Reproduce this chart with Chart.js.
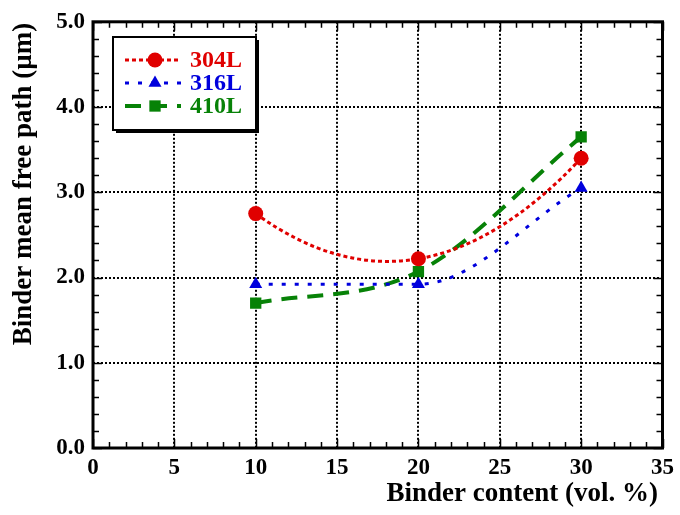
<!DOCTYPE html>
<html>
<head>
<meta charset="utf-8">
<script src="https://cdn.jsdelivr.net/npm/chart.js@4.4.1/dist/chart.umd.min.js"></script>
<style>
  html, body { margin: 0; padding: 0; background: #fff; }
  #wrap { width: 680px; height: 515px; position: relative; }
</style>
</head>
<body>
<div id="wrap"><canvas id="chart"></canvas></div>
<script>
// Binder content (vol. %) and binder mean free path (um) for each steel
const binderContent = [10, 20, 30];
const mfp304L = [2.75, 2.22, 3.40];
const mfp316L = [1.92, 1.92, 3.05];
const mfp410L = [1.70, 2.07, 3.65];
const seriesNames = ['304L', '316L', '410L'];

const xTicks = [0, 5, 10, 15, 20, 25, 30, 35];
const yTicks = [0.0, 1.0, 2.0, 3.0, 4.0, 5.0];

const serif = "'Liberation Serif', 'Times New Roman', serif";

function toPoints(values) {
  return binderContent.map((x, i) => ({ x: x, y: values[i] }));
}

// slope of the parabola through three points, at x
function quadSlope(xs, ys, x) {
  const [x0, x1, x2] = xs, [y0, y1, y2] = ys;
  return y0 * (2 * x - x1 - x2) / ((x0 - x1) * (x0 - x2)) +
         y1 * (2 * x - x0 - x2) / ((x1 - x0) * (x1 - x2)) +
         y2 * (2 * x - x0 - x1) / ((x2 - x0) * (x2 - x1));
}

// simple marker drawing for the legend
function drawMarker(ctx, style, x, y, r, color) {
  ctx.save();
  ctx.fillStyle = color;
  ctx.beginPath();
  if (style === 'circle') {
    ctx.arc(x, y, r, 0, Math.PI * 2);
  } else if (style === 'triangle') {
    ctx.moveTo(x, y - r);
    ctx.lineTo(x + r * 0.866, y + r * 0.5);
    ctx.lineTo(x - r * 0.866, y + r * 0.5);
    ctx.closePath();
  } else {
    const s = r * Math.SQRT1_2;
    ctx.rect(x - s, y - s, 2 * s, 2 * s);
  }
  ctx.fill();
  ctx.restore();
}

// 304L curve is a quadratic fit: set bezier handles from its slope
const quadCurvePlugin = {
  id: 'quadCurve',
  beforeDatasetDraw(chart, args) {
    const ds = chart.data.datasets[args.index];
    if (!ds.quadFit) return;
    const xs = chart.scales.x, ys = chart.scales.y;
    const vx = ds.data.map(p => p.x), vy = ds.data.map(p => p.y);
    const pts = args.meta.data;
    pts.forEach((pt, i) => {
      const m = quadSlope(vx, vy, vx[i]);
      if (i > 0) {
        const h = (vx[i] - vx[i - 1]) / 3;
        pt.cp1x = xs.getPixelForValue(vx[i] - h);
        pt.cp1y = ys.getPixelForValue(vy[i] - m * h);
      }
      if (i < pts.length - 1) {
        const h = (vx[i + 1] - vx[i]) / 3;
        pt.cp2x = xs.getPixelForValue(vx[i] + h);
        pt.cp2y = ys.getPixelForValue(vy[i] + m * h);
      }
    });
    args.meta.dataset._pointsUpdated = true;
  }
};

const framePlugin = {
  id: 'frame',
  afterDraw(chart) {
    const ctx = chart.ctx;
    const xs = chart.scales.x, ys = chart.scales.y;
    const a = chart.chartArea;
    ctx.save();
    ctx.strokeStyle = '#000';
    ctx.lineWidth = 1.5;
    // inward minor / major ticks on all four sides
    for (let v = 0; v <= 35; v++) {
      const px = Math.round(xs.getPixelForValue(v)) + 0.5;
      const len = v % 5 === 0 ? 9 : 6;
      ctx.beginPath();
      ctx.moveTo(px, a.bottom); ctx.lineTo(px, a.bottom - len);
      ctx.moveTo(px, a.top); ctx.lineTo(px, a.top + len);
      ctx.stroke();
    }
    for (let i = 0; i <= 25; i++) {
      const v = i * 0.2;
      const py = Math.round(ys.getPixelForValue(v)) + 0.5;
      const len = i % 5 === 0 ? 9 : 6;
      ctx.beginPath();
      ctx.moveTo(a.left, py); ctx.lineTo(a.left + len, py);
      ctx.moveTo(a.right, py); ctx.lineTo(a.right - len, py);
      ctx.stroke();
    }
    // heavy frame
    ctx.lineWidth = 3;
    ctx.strokeRect(a.left, a.top, a.right - a.left, a.bottom - a.top);

    // axis titles
    ctx.fillStyle = '#000';
    ctx.font = 'bold 27px ' + serif;
    ctx.textAlign = 'right';
    ctx.textBaseline = 'middle';
    ctx.fillText('Binder content (vol. %)', 658, 494);
    ctx.save();
    ctx.translate(24, 184);
    ctx.rotate(-Math.PI / 2);
    ctx.textAlign = 'center';
    ctx.fillText('Binder mean free path (\u00b5m)', 0, 0);
    ctx.restore();

    // legend box with shadow
    const bx = 113, by = 37, bw = 143, bh = 93;
    ctx.fillStyle = '#000';
    ctx.fillRect(bx + 3, by + 3, bw, bh);
    ctx.fillStyle = '#fff';
    ctx.fillRect(bx, by, bw, bh);
    ctx.lineWidth = 2;
    ctx.strokeStyle = '#000';
    ctx.strokeRect(bx, by, bw, bh);

    chart.data.datasets.forEach((ds, i) => {
      const y = 60 + i * 23;
      ctx.save();
      ctx.strokeStyle = ds.borderColor;
      ctx.lineWidth = ds.borderWidth;
      ctx.setLineDash(ds.borderDash);
      ctx.beginPath();
      ctx.moveTo(125, y); ctx.lineTo(181, y);
      ctx.stroke();
      ctx.restore();
      drawMarker(ctx, ds.pointStyle, 155, y, ds.pointRadius, ds.borderColor);
      ctx.fillStyle = ds.borderColor;
      ctx.font = 'bold 24px ' + serif;
      ctx.textAlign = 'left';
      ctx.textBaseline = 'middle';
      ctx.fillText(ds.label, 190, y + 1);
    });
    ctx.restore();
  }
};

const datasets = [
  { label: seriesNames[0], data: toPoints(mfp304L), borderColor: '#e00000', backgroundColor: '#e00000',
    borderWidth: 3, borderDash: [4, 3], pointStyle: 'circle', pointRadius: 7.5,
    tension: 0.4, quadFit: true },
  { label: seriesNames[1], data: toPoints(mfp316L), borderColor: '#0000dd', backgroundColor: '#0000dd',
    borderWidth: 3, borderDash: [4, 9], pointStyle: 'triangle', pointRadius: 7.5,
    cubicInterpolationMode: 'monotone' },
  { label: seriesNames[2], data: toPoints(mfp410L), borderColor: '#078207', backgroundColor: '#078207',
    borderWidth: 4, borderDash: [16, 10], pointStyle: 'rect', pointRadius: 8,
    cubicInterpolationMode: 'monotone' }
].map(d => Object.assign(d, { pointBorderWidth: 0, pointHoverRadius: d.pointRadius, fill: false }));

new Chart(document.getElementById('chart'), {
  type: 'line',
  data: { datasets: datasets },
  options: {
    responsive: true,
    maintainAspectRatio: false,
    animation: false,
    events: [],
    layout: { padding: { left: 0, right: 15, top: 19, bottom: 0 } },
    plugins: { legend: { display: false }, tooltip: { enabled: false } },
    scales: {
      x: {
        type: 'linear', min: 0, max: 35,
        afterBuildTicks: s => { s.ticks = xTicks.map(v => ({ value: v })); },
        afterFit: s => { s.height = 67; },
        ticks: { color: '#000', padding: 6, maxRotation: 0, autoSkip: false,
                 font: { family: serif, size: 23, weight: 'bold' },
                 callback: v => String(v) },
        grid: { drawTicks: false, lineWidth: 2,
                color: c => (c.tick && (c.tick.value === 0 || c.tick.value === 35)) ? 'rgba(0,0,0,0)' : '#000' },
        border: { display: false, dash: [2, 2] }
      },
      y: {
        type: 'linear', min: 0, max: 5,
        afterBuildTicks: s => { s.ticks = yTicks.map(v => ({ value: v })); },
        afterFit: s => { s.width = 93; },
        ticks: { color: '#000', padding: 8,
                 font: { family: serif, size: 23, weight: 'bold' },
                 callback: v => Number(v).toFixed(1) },
        grid: { drawTicks: false, lineWidth: 2,
                color: c => (c.tick && (c.tick.value === 0 || c.tick.value === 5)) ? 'rgba(0,0,0,0)' : '#000' },
        border: { display: false, dash: [2, 2] }
      }
    }
  },
  plugins: [quadCurvePlugin, framePlugin]
});
</script>
</body>
</html>
